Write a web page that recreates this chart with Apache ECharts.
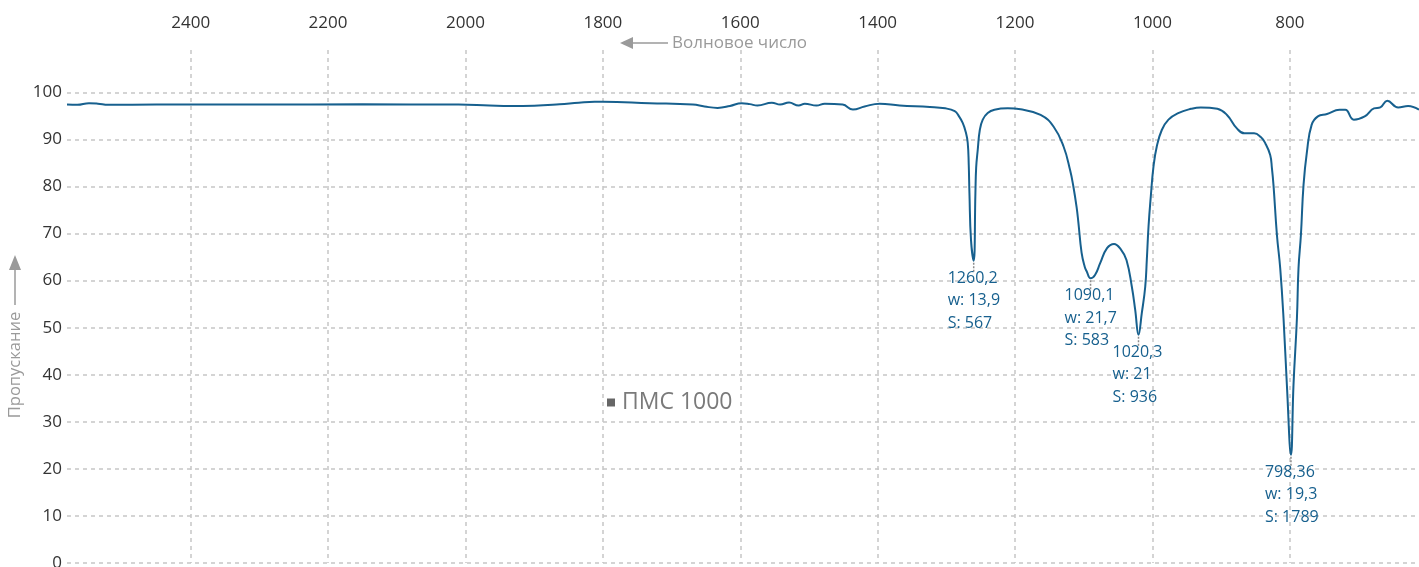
<!DOCTYPE html>
<html>
<head>
<meta charset="utf-8">
<script src="https://cdn.jsdelivr.net/npm/echarts@6/dist/echarts.min.js"></script>
<style>
  html, body { margin: 0; padding: 0; background: #fff; }
  #chart { width: 1419px; height: 567px; }
</style>
</head>
<body>
<div id="chart"></div>
<script>
// ИК-спектр ПМС 1000: волновое число (см⁻¹) и пропускание (%)
const wavenumbers = [
  2580, 2565, 2548, 2535, 2520, 2450, 2300, 2150, 2010, 1965,
  1935, 1900, 1863, 1835, 1812, 1800, 1732, 1669, 1652, 1633,
  1615, 1598, 1586, 1575, 1554, 1542, 1529, 1515, 1506, 1489,
  1477, 1451, 1436, 1419, 1397, 1368, 1324, 1301.6, 1287.8, 1282,
  1276.2, 1271.8, 1268.9, 1267.4, 1266.4, 1264.1, 1260.2, 1257.7, 1256.6, 1254.3,
  1251.3, 1247, 1239.8, 1230, 1210.7, 1191.9, 1162.8, 1143.8, 1129.4, 1119.9,
  1115.1, 1110.3, 1107.9, 1103.1, 1098.7, 1095.8, 1090.1, 1083.6, 1076.1, 1066.1,
  1055.9, 1045.8, 1037.8, 1030, 1025.1, 1020.3, 1015.5, 1010.5, 1008.2, 1005.7,
  1002.4, 998.5, 993.7, 986.4, 976.7, 962.5, 943.9, 929.6, 905.5, 891.5,
  877.4, 866.2, 852.1, 842.3, 835.8, 828.6, 826.1, 823.8, 818.8, 814,
  809.2, 804.3, 798.36, 794.7, 789.7, 787.4, 783.9, 780.1, 775.1, 768.3,
  759.2, 745.9, 727.7, 719.3, 706.9, 691, 677.5, 668.3, 658.3, 642.3,
  627.8, 612
];
const transmission = [
  97.4, 97.35, 97.7, 97.6, 97.35, 97.4, 97.4, 97.45, 97.4, 97.2,
  97.1, 97.15, 97.45, 97.8, 98.0, 98.0, 97.7, 97.4, 97.0, 96.7,
  97.1, 97.7, 97.5, 97.2, 97.8, 97.4, 97.85, 97.2, 97.6, 97.2,
  97.6, 97.4, 96.35, 97.0, 97.6, 97.2, 96.9, 96.6, 96.0, 95.0,
  93.5, 91.6, 89.3, 84.6, 78.6, 68.6, 64.2, 78.6, 84.0, 87.8,
  92.0, 94.2, 95.6, 96.3, 96.6, 96.4, 95.2, 92.7, 88.5, 83.5,
  80.0, 75.5, 72.5, 65.9, 63.0, 62.0, 60.5, 61.2, 63.7, 66.9,
  67.8, 66.6, 64.4, 58.7, 53.8, 48.5, 53.1, 58.7, 64.4, 71.5,
  77.9, 84.2, 88.5, 92.0, 94.2, 95.6, 96.5, 96.8, 96.5, 95.2,
  92.4, 91.3, 91.3, 90.5, 89.2, 86.7, 83.9, 80.3, 69.7, 62.6,
  52.0, 37.8, 23.0, 37.8, 52.0, 62.6, 69.7, 80.3, 87.4, 93.1,
  94.9, 95.4, 96.3, 96.3, 94.2, 94.9, 96.6, 96.8, 98.2, 96.8,
  97.1, 96.3
];

// Отмеченные полосы поглощения
const peakPositions = [1260.2, 1090.1, 1020.3, 798.36];
const peakTransmission = [64.2, 60.5, 48.5, 23.0];
const peakWidths = [13.9, 21.7, 21, 19.3];
const peakAreas = [567, 583, 936, 1789];

const xTicksVisible = [2400, 2200, 2000, 1800, 1600, 1400, 1200, 1000, 800];
const seriesName = 'ПМС 1000';

const lineColor = '#17608e';
const gridColor = '#c6c6c6';
const noteGray = '#9a9a9a';
const FONT = '"Open Sans", "Noto Sans", sans-serif';

const comma = v => String(v).replace('.', ',');

const spectrum = wavenumbers.map((w, i) => [w, transmission[i]]);
const peaks = peakPositions.map((w, i) => [w, peakTransmission[i], peakWidths[i], peakAreas[i]]);

const chart = echarts.init(document.getElementById('chart'), null, { renderer: 'canvas' });

chart.setOption({
  animation: false,
  backgroundColor: '#ffffff',
  textStyle: { fontFamily: FONT },
  grid: { left: 67, right: 0, top: 50, bottom: 4, containLabel: false, outerBoundsMode: 'none' },
  legend: {
    left: 602,
    top: 386,
    padding: 5,
    icon: 'rect',
    itemWidth: 8,
    itemHeight: 8,
    itemGap: 10,
    selectedMode: false,
    data: [{ name: seriesName, itemStyle: { color: '#666666' } }],
    textStyle: { color: '#7a7a7a', fontSize: 23, fontFamily: FONT, padding: [0, 0, 0, 2] }
  },
  xAxis: {
    type: 'value',
    position: 'top',
    inverse: true,
    min: 612,
    max: 2580,
    splitNumber: 10,
    axisLine: { show: false },
    axisTick: { show: false },
    axisLabel: {
      show: true,
      margin: 18,
      color: '#333333',
      fontSize: 17,
      fontFamily: FONT,
      showMinLabel: false,
      showMaxLabel: false,
      formatter: v => (xTicksVisible.indexOf(v) >= 0 ? String(v) : '')
    },
    splitLine: {
      show: true,
      showMinLine: false,
      showMaxLine: false,
      lineStyle: { color: gridColor, width: 1.5, type: [4, 4] }
    }
  },
  yAxis: {
    type: 'value',
    min: 0,
    max: 109,
    interval: 10,
    axisLine: { show: false },
    axisTick: { show: false },
    axisLabel: {
      margin: 5,
      color: '#333333',
      fontSize: 17,
      fontFamily: FONT,
      showMaxLabel: false
    },
    splitLine: {
      show: true,
      showMaxLine: false,
      lineStyle: { color: gridColor, width: 1.5, type: [4, 4] }
    }
  },
  graphic: [
    // подпись оси X со стрелкой
    { type: 'polygon', shape: { points: [[620, 43], [633, 37], [633, 49]] }, style: { fill: noteGray } },
    { type: 'line', shape: { x1: 632, y1: 43, x2: 668, y2: 43 }, style: { stroke: noteGray, lineWidth: 1.5 } },
    { type: 'text', x: 672, y: 43, style: { text: 'Волновое число', fill: noteGray, font: '17px ' + FONT, verticalAlign: 'middle', align: 'left' } },
    // подпись оси Y со стрелкой
    { type: 'polygon', shape: { points: [[15, 255], [9, 270], [21, 270]] }, style: { fill: noteGray } },
    { type: 'line', shape: { x1: 15, y1: 269, x2: 15, y2: 305 }, style: { stroke: noteGray, lineWidth: 1.5 } },
    { type: 'text', x: 15, y: 365, rotation: Math.PI / 2, style: { text: 'Пропускание', fill: noteGray, font: '16.5px ' + FONT, verticalAlign: 'middle', align: 'center' } }
  ],
  series: [
    {
      name: seriesName,
      type: 'line',
      data: spectrum,
      showSymbol: false,
      smooth: 0.45,
      lineStyle: { color: lineColor, width: 2 },
      itemStyle: { color: lineColor },
      z: 3
    },
    {
      name: 'peaks',
      type: 'custom',
      data: peaks,
      z: 4,
      renderItem: (params, api) => {
        const p = api.coord([api.value(0), api.value(1)]);
        const text = comma(api.value(0)) + '\nw: ' + comma(api.value(2)) + '\nS: ' + api.value(3);
        return {
          type: 'group',
          children: [
            {
              type: 'line',
              shape: { x1: p[0], y1: p[1] + 2, x2: p[0], y2: p[1] + 11 },
              style: { stroke: '#8c8c8c', lineWidth: 1.5, lineDash: [2, 1.5] }
            },
            {
              type: 'text',
              x: p[0] - 26,
              y: p[1] + 6,
              style: {
                text: text,
                fill: lineColor,
                font: '16px ' + FONT,
                lineHeight: 22.5,
                align: 'left',
                verticalAlign: 'top'
              }
            }
          ]
        };
      }
    }
  ]
});
</script>
</body>
</html>
